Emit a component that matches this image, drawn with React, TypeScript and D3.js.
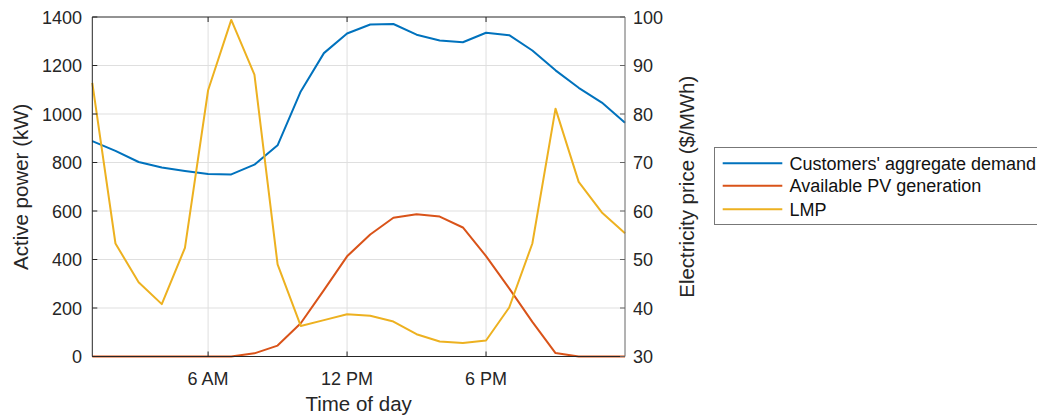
import React from "react";
import * as d3 from "d3";

// Hour of day (1..24)
const hours = [1, 2, 3, 4, 5, 6, 7, 8, 9, 10, 11, 12, 13, 14, 15, 16, 17, 18, 19, 20, 21, 22, 23, 24];
// Customers' aggregate demand (kW)
const demand = [888, 848, 802, 779, 765, 753, 751, 791, 871, 1093, 1251, 1332, 1369, 1371, 1327, 1303, 1296, 1335, 1325, 1262, 1180, 1108, 1047, 964];
// Available PV generation (kW)
const pv = [0, 0, 0, 0, 0, 0, 0, 13, 45, 137, 274, 413, 503, 572, 587, 577, 532, 414, 281, 143, 14, 0, 0, 0];
// Locational marginal price ($/MWh)
const lmp = [86.4, 53.3, 45.3, 40.8, 52.4, 84.9, 99.4, 88.1, 49.0, 36.3, 37.5, 38.7, 38.4, 37.2, 34.6, 33.1, 32.8, 33.3, 40.1, 53.3, 81.1, 66.0, 59.7, 55.4];

const xTickValues = [6, 12, 18];
const xTickLabels = ["6 AM", "12 PM", "6 PM"];
const leftTicks = [0, 200, 400, 600, 800, 1000, 1200, 1400];
const rightTicks = [30, 40, 50, 60, 70, 80, 90, 100];

const seriesNames = ["Customers' aggregate demand", "Available PV generation", "LMP"];
const colors = ["#0072BD", "#D95319", "#EDB120"];

const W = 1037;
const H = 420;
const m = { left: 92.3, right: 625, top: 17, bottom: 356.5 };
const FONT = "'Liberation Sans', Arial, Helvetica, sans-serif";
const AX = "#262626";
const TICK_FS = 18;
const LABEL_FS = 20.5;

export default function App() {
  const x = d3.scaleLinear().domain([1, 24]).range([m.left, m.right]);
  const yL = d3.scaleLinear().domain([0, 1400]).range([m.bottom, m.top]);
  const yR = d3.scaleLinear().domain([30, 100]).range([m.bottom, m.top]);

  const lineL = d3
    .line<number>()
    .x((_, i) => x(hours[i]))
    .y((d) => yL(d));
  const lineR = d3
    .line<number>()
    .x((_, i) => x(hours[i]))
    .y((d) => yR(d));

  const tickLen = 5;

  return (
    <svg
      width={W}
      height={H}
      style={{ position: "absolute", left: 0, top: 0, background: "#fff" }}
      fontFamily={FONT}
    >
      {/* grid */}
      <g stroke="#dfdfdf" strokeWidth={1}>
        {xTickValues.map((v) => (
          <line key={"gx" + v} x1={x(v)} x2={x(v)} y1={m.top} y2={m.bottom} />
        ))}
        {leftTicks.slice(1, -1).map((v) => (
          <line key={"gy" + v} x1={m.left} x2={m.right} y1={yL(v)} y2={yL(v)} />
        ))}
      </g>

      {/* series */}
      <g fill="none" strokeWidth={2} strokeLinejoin="round">
        <path d={lineL(demand) || ""} stroke={colors[0]} />
        <path d={lineL(pv) || ""} stroke={colors[1]} />
        <path d={lineR(lmp) || ""} stroke={colors[2]} />
      </g>

      {/* box */}
      <line x1={m.left} x2={m.right} y1={m.top} y2={m.top} stroke={AX} strokeWidth={1} />
      <line x1={m.left} x2={m.right} y1={m.bottom} y2={m.bottom} stroke={AX} strokeWidth={1} />
      <line x1={m.left} x2={m.left} y1={m.top} y2={m.bottom} stroke={AX} strokeWidth={1} />
      <line x1={m.right} x2={m.right} y1={m.top} y2={m.bottom} stroke="#666" strokeWidth={1} />

      {/* x ticks */}
      <g stroke={AX} strokeWidth={1}>
        {xTickValues.map((v) => (
          <g key={"xt" + v}>
            <line x1={x(v)} x2={x(v)} y1={m.bottom} y2={m.bottom - tickLen} />
            <line x1={x(v)} x2={x(v)} y1={m.top} y2={m.top + tickLen} />
          </g>
        ))}
      </g>
      <g fontSize={TICK_FS} fill="#262626" textAnchor="middle">
        {xTickValues.map((v, i) => (
          <text key={"xl" + v} x={x(v)} y={385}>
            {xTickLabels[i]}
          </text>
        ))}
      </g>
      <text x={(m.left + m.right) / 2} y={410.5} fontSize={LABEL_FS} textAnchor="middle" fill="#262626">
        Time of day
      </text>

      {/* left axis */}
      <g stroke={AX} strokeWidth={1}>
        {leftTicks.map((v) => (
          <line key={"lt" + v} x1={m.left} x2={m.left + tickLen} y1={yL(v)} y2={yL(v)} />
        ))}
      </g>
      <g fontSize={TICK_FS} fill="#262626" textAnchor="end">
        {leftTicks.map((v) => (
          <text key={"ll" + v} x={82} y={yL(v) + 6.5}>
            {v}
          </text>
        ))}
      </g>
      <text
        transform={`translate(28,${(m.top + m.bottom) / 2}) rotate(-90)`}
        fontSize={LABEL_FS}
        textAnchor="middle"
        fill="#262626"
      >
        Active power (kW)
      </text>

      {/* right axis */}
      <g stroke="#666" strokeWidth={1}>
        {rightTicks.map((v) => (
          <line key={"rt" + v} x1={m.right} x2={m.right - tickLen} y1={yR(v)} y2={yR(v)} />
        ))}
      </g>
      <g fontSize={TICK_FS} fill="#262626" textAnchor="start">
        {rightTicks.map((v) => (
          <text key={"rl" + v} x={633} y={yR(v) + 6.5}>
            {v}
          </text>
        ))}
      </g>
      <text
        transform={`translate(694,${(m.top + m.bottom) / 2}) rotate(-90)`}
        fontSize={LABEL_FS}
        textAnchor="middle"
        fill="#262626"
      >
        Electricity price ($/MWh)
      </text>

      {/* legend */}
      <rect x={714.5} y={147.5} width={340} height={77} fill="#fff" stroke="#777" strokeWidth={1} />
      {seriesNames.map((name, i) => {
        const cy = [163.3, 185.7, 209.3][i];
        return (
          <g key={name}>
            <line x1={722.7} x2={782.3} y1={cy} y2={cy} stroke={colors[i]} strokeWidth={2} />
            <text x={789.5} y={cy + 6.5} fontSize={TICK_FS} fill="#111">
              {name}
            </text>
          </g>
        );
      })}
    </svg>
  );
}
